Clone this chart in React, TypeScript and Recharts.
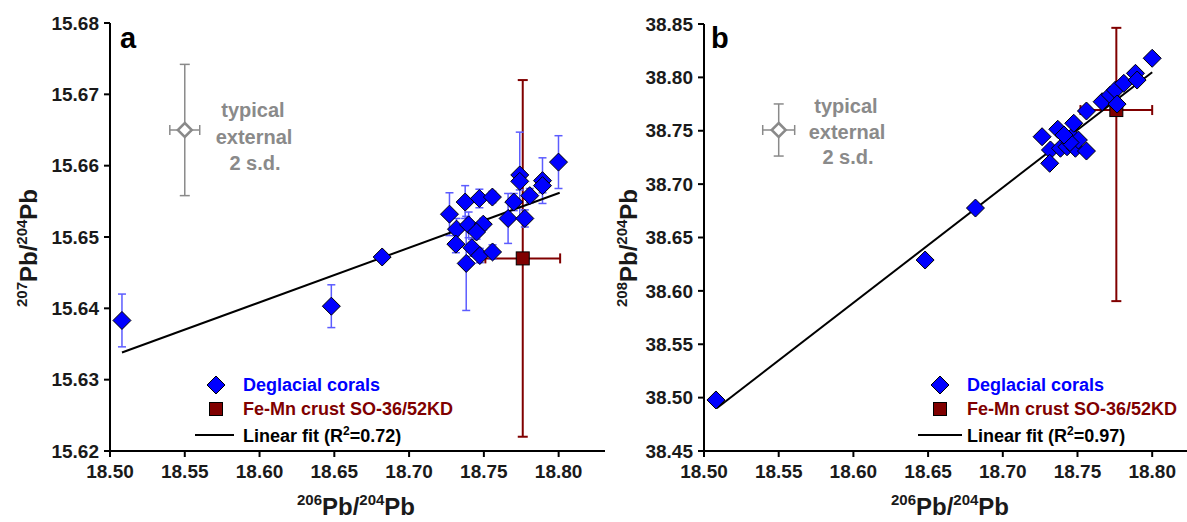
import { ScatterChart, Scatter, XAxis, YAxis, ErrorBar } from 'recharts';

// Panel a: 207Pb/204Pb vs 206Pb/204Pb
const coralAX = [18.508, 18.648, 18.682, 18.727, 18.7375, 18.747, 18.7557, 18.7317, 18.7398, 18.7496, 18.7451, 18.7313, 18.742, 18.7473, 18.7558, 18.7382, 18.770, 18.7662, 18.7774, 18.7807, 18.774, 18.774, 18.7892, 18.7892, 18.7999];
const coralAY = [15.6383, 15.6403, 15.6472, 15.6532, 15.6549, 15.6554, 15.6556, 15.6511, 15.6517, 15.6518, 15.6507, 15.6490, 15.6485, 15.6474, 15.6479, 15.6463, 15.6549, 15.6526, 15.6526, 15.6558, 15.6587, 15.6578, 15.6579, 15.6572, 15.6605];
const coralAErr = [0.0037, 0.0030, 0.0006, 0.0030, 0.0023, 0.0013, 0.0008, 0.0015, 0.0018, 0.0008, 0.0010, 0.0012, 0.0012, 0.0010, 0.0010, 0.0066, 0.0012, 0.0035, 0.0012, 0.0010, 0.0060, 0.0012, 0.0032, 0.0010, 0.0037];
const crustA = [{ x: 18.776, y: 15.647, ex: 0.025, ey: 0.025 }];
const fitAX = [18.508, 18.8007];
const fitAY = [15.6338, 15.6562];
const typicalA = [{ x: 18.55, y: 15.665, ex: 0.01, ey: 0.0092 }];
const ticksAY = [15.62, 15.63, 15.64, 15.65, 15.66, 15.67, 15.68];

// Panel b: 208Pb/204Pb vs 206Pb/204Pb
const coralBX = [18.508, 18.648, 18.6817, 18.7263, 18.7319, 18.7314, 18.7368, 18.7386, 18.743, 18.7464, 18.7486, 18.7506, 18.7475, 18.756, 18.756, 18.7665, 18.772, 18.7754, 18.7765, 18.781, 18.7888, 18.7899, 18.80, 18.745, 18.741];
const coralBY = [38.4978, 38.6289, 38.6776, 38.7444, 38.732, 38.7195, 38.7514, 38.7336, 38.735, 38.7444, 38.7336, 38.7413, 38.757, 38.731, 38.7685, 38.7772, 38.7835, 38.7882, 38.775, 38.7944, 38.8038, 38.7975, 38.8179, 38.739, 38.746];
const crustB = [{ x: 18.776, y: 38.7694, ex: 0.024, ey: [0.179, 0.077] }];
const fitBX = [18.5085, 18.80];
const fitBY = [38.490, 38.8048];
const typicalB = [{ x: 18.55, y: 38.7507, ex: 0.0107, ey: 0.0244 }];
const ticksBY = [38.45, 38.50, 38.55, 38.60, 38.65, 38.70, 38.75, 38.80, 38.85];

const ticksX = [18.50, 18.55, 18.60, 18.65, 18.70, 18.75, 18.80];

const coralsA = coralAX.map((x, i) => ({ x, y: coralAY[i], ey: coralAErr[i] }));
const coralsB = coralBX.map((x, i) => ({ x, y: coralBY[i] }));
const fitA = fitAX.map((x, i) => ({ x, y: fitAY[i] }));
const fitB = fitBX.map((x, i) => ({ x, y: fitBY[i] }));

const FONT = 'Liberation Sans, Arial, sans-serif';
const BLUE = '#0000ff';
const RED = '#800000';
const GREY = '#8a8a8a';

const Diamond = (props: any) => {
  const { cx, cy } = props;
  const r = 9;
  return <path d={`M${cx},${cy - r}L${cx + r},${cy}L${cx},${cy + r}L${cx - r},${cy}Z`} fill={BLUE} stroke="#000" strokeWidth={1} />;
};

const OpenDiamond = (props: any) => {
  const { cx, cy } = props;
  const r = 7;
  return <path d={`M${cx},${cy - r}L${cx + r},${cy}L${cx},${cy + r}L${cx - r},${cy}Z`} fill="#fff" stroke={GREY} strokeWidth={2.5} />;
};

const Square = (props: any) => {
  const { cx, cy } = props;
  return <rect x={cx - 6.5} y={cy - 6.5} width={13} height={13} fill={RED} stroke="#000" strokeWidth={1} />;
};

const NoDot = () => <g />;

const tickStyle = { fontSize: 19, fontWeight: 700, fill: '#1a1a1a', fontFamily: FONT };

interface PanelProps {
  left: number;
  width: number;
  yWidth: number;
  top: number;
  xMax: number;
  yDomain: [number, number];
  yTicks: number[];
  corals: any[];
  crust: any[];
  fit: any[];
  typical: any[];
  coralErr: boolean;
}

function Panel({ left, width, yWidth, top, xMax, yDomain, yTicks, corals, crust, fit, typical, coralErr }: PanelProps) {
  return (
    <div style={{ position: 'absolute', left, top: 0 }}>
      <ScatterChart width={width} height={522} margin={{ top, right: left === 0 ? 5 : 0, bottom: 41, left: 0 }}>
        <XAxis
          type="number"
          dataKey="x"
          domain={[18.5, xMax]}
          ticks={ticksX}
          tickFormatter={(v: number) => v.toFixed(2)}
          height={30}
          tickSize={6}
          tickMargin={8}
          tick={tickStyle}
          axisLine={{ stroke: '#000', strokeWidth: 2 }}
          tickLine={{ stroke: '#000', strokeWidth: 2 }}
          allowDataOverflow
        />
        <YAxis
          type="number"
          dataKey="y"
          domain={yDomain}
          ticks={yTicks}
          tickFormatter={(v: number) => v.toFixed(2)}
          width={yWidth}
          tickSize={6}
          tickMargin={5}
          tick={tickStyle}
          axisLine={{ stroke: '#000', strokeWidth: 2 }}
          tickLine={{ stroke: '#000', strokeWidth: 2 }}
          allowDataOverflow
        />
        <Scatter data={typical} shape={OpenDiamond} isAnimationActive={false}>
          <ErrorBar dataKey="ey" direction="y" width={5} stroke={GREY} strokeWidth={1.5} isAnimationActive={false} />
          <ErrorBar dataKey="ex" direction="x" width={5} stroke={GREY} strokeWidth={1.5} isAnimationActive={false} />
        </Scatter>
        <Scatter data={crust} shape={Square} isAnimationActive={false}>
          <ErrorBar dataKey="ey" direction="y" width={5} stroke={RED} strokeWidth={2} isAnimationActive={false} />
          <ErrorBar dataKey="ex" direction="x" width={5} stroke={RED} strokeWidth={2} isAnimationActive={false} />
        </Scatter>
        <Scatter data={fit} shape={NoDot} line={{ stroke: '#000', strokeWidth: 2 }} isAnimationActive={false} />
        <Scatter data={corals} shape={Diamond} isAnimationActive={false}>
          {coralErr && <ErrorBar dataKey="ey" direction="y" width={4} stroke="#5c5cff" strokeWidth={1.5} isAnimationActive={false} />}
        </Scatter>
      </ScatterChart>
    </div>
  );
}

function Ratio({ top, x, y, rotate }: { top: string; x: number; y: number; rotate?: boolean }) {
  return (
    <text
      x={x}
      y={y}
      textAnchor="middle"
      fontFamily={FONT}
      fontWeight={700}
      fontSize={24}
      fill="#1a1a1a"
      transform={rotate ? `rotate(-90 ${x} ${y})` : undefined}
    >
      <tspan fontSize={15} dy={-10}>{top}</tspan>
      <tspan dy={10}>Pb/</tspan>
      <tspan fontSize={15} dy={-10}>204</tspan>
      <tspan dy={10}>Pb</tspan>
    </text>
  );
}

function Overlay() {
  const legendText = { fontFamily: FONT, fontWeight: 700, fontSize: 18 };
  const typText = { fontFamily: FONT, fontWeight: 700, fontSize: 20, fill: GREY, textAnchor: 'middle' as const };
  const legend = (dx: number, ly: number, lx1: number, lx2: number, r2: string) => (
    <g>
      <path d={`M${dx},376L${dx + 9},385L${dx},394L${dx - 9},385Z`} fill={BLUE} stroke="#000" strokeWidth={1} />
      <rect x={dx - 6.5} y={402.5} width={13} height={13} fill={RED} stroke="#000" strokeWidth={1} />
      <line x1={lx1} x2={lx2} y1={435} y2={435} stroke="#000" strokeWidth={2} />
      <text x={ly} y={391} fill={BLUE} {...legendText}>Deglacial corals</text>
      <text x={ly} y={415} fill={RED} {...legendText}>Fe-Mn crust SO-36/52KD</text>
      <text x={ly} y={442} fill="#000" {...legendText}>
        Linear fit (R<tspan fontSize={12} dy={-7}>2</tspan><tspan dy={7}>={r2})</tspan>
      </text>
    </g>
  );
  return (
    <svg width={1187} height={522} style={{ position: 'absolute', left: 0, top: 0, pointerEvents: 'none' }}>
      <text x={120} y={48} fontFamily={FONT} fontWeight={700} fontSize={29} fill="#000">a</text>
      <text x={711} y={48} fontFamily={FONT} fontWeight={700} fontSize={29} fill="#000">b</text>

      <text x={253} y={117} {...typText}>typical</text>
      <text x={254} y={144} {...typText}>external</text>
      <text x={255} y={170} {...typText}>2 s.d.</text>
      <text x={846} y={113} {...typText}>typical</text>
      <text x={847} y={139} {...typText}>external</text>
      <text x={848} y={164} {...typText}>2 s.d.</text>

      {legend(216, 243, 195, 234, '0.72')}
      {legend(940, 967, 918, 962, '0.97')}

      <Ratio top="207" x={37} y={248} rotate />
      <Ratio top="208" x={637} y={248} rotate />
      <Ratio top="206" x={356} y={515} />
      <Ratio top="206" x={950} y={515} />
    </svg>
  );
}

export default function App() {
  return (
    <div style={{ position: 'absolute', left: 0, top: 0, width: 1187, height: 522, background: '#fff', fontFamily: FONT, overflow: 'hidden' }}>
      <Panel left={0} width={610} yWidth={110} top={23} xMax={18.831} yDomain={[15.62, 15.68]} yTicks={ticksAY} corals={coralsA} crust={crustA} fit={fitA} typical={typicalA} coralErr />
      <Panel left={600} width={587} yWidth={104} top={24} xMax={18.8233} yDomain={[38.45, 38.85]} yTicks={ticksBY} corals={coralsB} crust={crustB} fit={fitB} typical={typicalB} coralErr={false} />
      <Overlay />
    </div>
  );
}
